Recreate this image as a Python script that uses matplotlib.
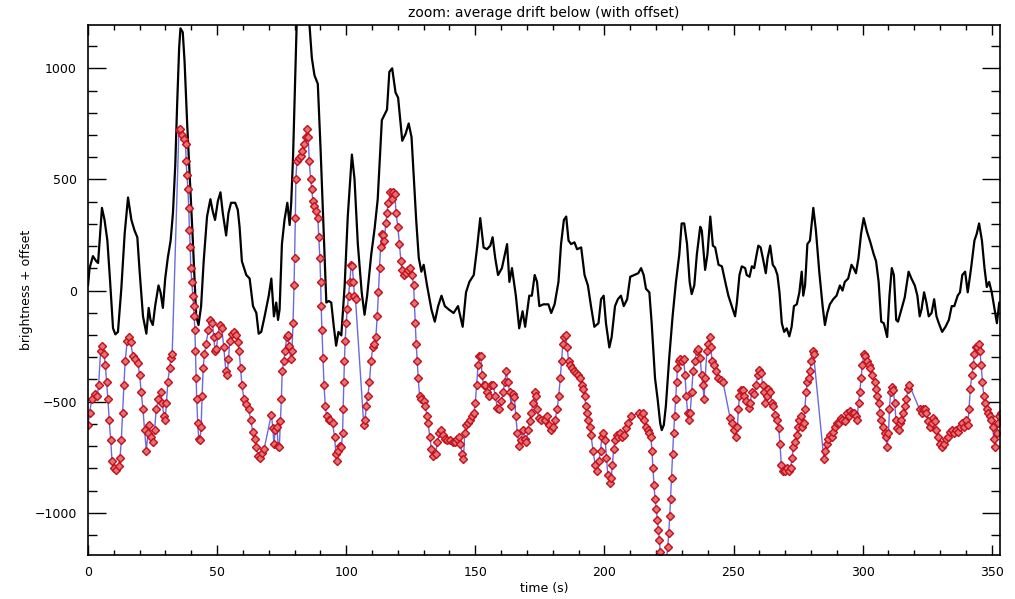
import numpy as np
import matplotlib.pyplot as plt
from matplotlib.ticker import MultipleLocator

# upper trace: raw brightness (black)
t_raw = [0, 0.6, 1.9, 3.2, 3.9, 5.4, 6.4, 7.5, 8.4, 9.7, 10.6, 11.6, 12.9, 14.2, 15.5, 16.8, 18, 19.1,
         20, 21.3, 22.6, 23.5, 24.2, 25.1, 26, 27.3, 28.1, 29, 29.9, 30.9, 32, 32.9, 33.8, 34.5, 35.3,
         35.8, 36.7, 37.4, 38.4, 39.7, 40.6, 41.9, 42.8, 43.8, 44.8, 46.1, 47.4, 48.3, 49.2, 50.3, 51.3,
         52.2, 53.5, 54.4, 55.4, 57, 58, 58.7, 59.6, 61.3, 62.6, 63.9, 65.2, 66.1, 67.1, 68.4, 70, 71,
         72, 72.9, 73.6, 74.2, 75.1, 76.1, 77.2, 78.1, 78.7, 79.4, 80.3, 80.8, 81.5, 83, 84.5, 85.8,
         86.7, 87.7, 89, 90.1, 91.4, 92.3, 93.2, 94.2, 95.2, 96.1, 97, 98.1, 99.4, 100.6, 102.2, 103.2,
         104.5, 106, 107.1, 108.1, 109.7, 111, 112.2, 113.8, 114.8, 115.8, 116.7, 117.8, 119.1, 120.1,
         121.7, 123, 124.2, 125.3, 126.2, 127.1, 128.1, 129.1, 130, 131.3, 133, 134.3, 135.6, 136.9,
         138.2, 139.7, 141.6, 143.3, 145.1, 146.4, 147.7, 149.4, 150.7, 151.9, 153.2, 154.5, 155.8,
         156.7, 157.7, 158.8, 160.3, 162.3, 163.2, 164.2, 165.7, 167, 168.3, 169.3, 170.9, 171.9, 173,
         173.9, 174.8, 176.4, 178.3, 179.4, 180.7, 182.2, 183.2, 184.3, 185.2, 186.1, 187.1, 188.4,
         189.4, 191, 192.3, 193.6, 194.8, 196.1, 197.7, 198.7, 199.7, 200.6, 201.9, 202.8, 204.1,
         205.2, 206.4, 207.5, 208.8, 210, 211.6, 213.1, 214.2, 215.2, 216.1, 217.4, 218.3, 219.6,
         220.6, 221.6, 222.2, 223, 223.8, 225.1, 226.4, 227.7, 229, 229.9, 230.9, 232, 233, 233.8,
         234.8, 235.8, 237.1, 237.7, 239, 239.9, 241, 242, 242.9, 244.2, 245.5, 246.8, 248, 249.3,
         250.6, 251.3, 252.3, 253.2, 254.5, 255.1, 256.2, 257.1, 258, 258.7, 259.6, 260.5, 261.6,
         262.5, 263.2, 264.2, 265.2, 266.1, 267, 267.8, 268.7, 269.6, 270.6, 271.6, 272.5, 273.4,
         274.5, 275.5, 276.4, 277, 277.7, 278.6, 279.6, 280.9, 281.9, 283.2, 284.5, 285.4, 286.3,
         287.3, 288.6, 289.9, 291.2, 292.2, 293.1, 294.4, 295.7, 296.5, 297.4, 298.4, 299.4, 300.4,
         301.7, 303, 304.3, 305.2, 306.2, 307.2, 308.2, 309.5, 310.4, 311.3, 312.1, 313, 313.7, 315,
         316.3, 317.8, 318.9, 320.2, 321.2, 322.1, 322.8, 323.8, 324.7, 325.6, 326.7, 327.7, 328.6,
         329.5, 330.8, 332.1, 333.4, 334.5, 335.5, 336.8, 337.7, 338.6, 339.7, 340.7, 342, 343.3,
         344.2, 345.1, 346.2, 347.2, 348.1, 349, 350, 351.1, 352, 352.9, 353.9]
v_raw = [23, 100, 155, 132, 124, 372, 318, 225, 70, -170, -197, -186, 8, 256, 419, 318, 271, 240,
         85, -116, -194, -78, -132, -155, -70, 23, -8, -78, 54, 147, 225, 349, 566, 829, 1093,
         1180, 1162, 1031, 752, 442, 225, -116, -155, -70, 132, 333, 411, 357, 318, 403, 442,
         349, 248, 349, 395, 395, 364, 287, 132, 70, 54, -70, -101, -194, -186, -116, -23, 54,
         -116, -54, -132, -85, 209, 318, 395, 295, 395, 597, 984, 1194, 1350, 1450, 1400, 1194,
         1046, 969, 930, 628, 225, -54, -47, -54, -163, -248, -186, -202, 23, 333, 612, 504,
         209, -8, -109, -23, 163, 279, 411, 767, 790, 814, 984, 1000, 891, 868,
         674, 705, 752, 690, 504, 318, 147, 85, 116, 23, -85, -140, -70, -23,
         -70, -85, -101, -70, -163, -8, 39, 70, 194, 326, 194, 186, 202,
         240, 147, 70, 101, 209, 39, 101, -23, -170, -93, -163, -23, -23, 70,
         39, -70, -62, -62, -101, -62, 39, 209, 318, 333, 225, 209, 217,
         186, 194, 70, 23, -70, -163, -147, -39, -23, -147, -256, -209, -70,
         -39, -23, -70, -39, 62, 70, 78, 101, 70, 8, -8, -147, -395,
         -488, -597, -628, -605, -519, -302, -116, 39, 163, 302, 302, 209, 39, -16,
         23, 163, 287, 271, 93, 163, 333, 202, 194, 116, 109, 39, -23, -70,
         -116, -54, 70, 109, 101, 70, 62, 109, 101, 147, 202, 194, 132,
         78, 147, 202, 116, 101, 70, -8, -147, -186, -170, -206, -163, -70,
         -62, -8, 85, -23, 23, 209, 225, 372, 271, 85, -70, -155, -101,
         -62, -39, -23, 23, 0, 39, 54, 116, 101, 78, 147, 256, 326,
         264, 217, 163, 132, 39, -140, -147, -209, -23, 101, 70, -132, -140, -85,
         -31, 85, 54, 23, -23, -116, -85, -8, -54, -116, -101, -39, -116,
         -147, -186, -163, -132, -70, -70, -23, -8, 70, 85, -8, 101, 225,
         256, 302, 225, 101, 16, 39, -8, -85, -147, -54, -47]

# lower trace: drift-corrected brightness with offset (diamonds)
t_cor = [0, 0.6, 1.5, 2.6, 3.6, 4.1, 4.9, 5.4, 6.2, 6.7, 7.2, 7.7, 8.2, 8.8, 9.3, 10.1, 11, 11.9,
         12.4, 12.9, 13.4, 13.9, 14.4, 15.2, 15.9, 16.5, 17.4, 18.3, 19.3, 20, 20.6, 21.3, 21.9, 22.6,
         23.2, 23.8, 24.5, 25.1, 25.8, 26.4, 27.3, 28.1, 28.7, 29.4, 29.9, 30.4, 30.9, 31.6, 32.2,
         32.6, 35.2, 35.8, 36.3, 37.1, 37.8, 38, 38.3, 38.7, 39, 39.3, 39.6, 39.8, 40.2, 40.6, 40.9,
         41.1, 41.4, 41.6, 41.9, 42.1, 42.5, 42.9, 43.4, 43.8, 44.2, 44.6, 45.1, 45.7, 46.6, 47.4,
         48.2, 48.7, 49.2, 49.7, 50.3, 51, 51.8, 52.6, 53.4, 53.9, 54.4, 54.9, 55.7, 56.7, 57.5, 58,
         58.5, 59.1, 59.6, 60.4, 61.3, 62.2, 63, 63.8, 64.5, 65.2, 65.8, 66.6, 67.4, 68.2,
         71, 71.6, 72, 72.5, 73.2, 73.6, 74.1, 74.5, 74.9, 75.2, 75.8, 76.4, 76.9, 77.4, 77.9, 78.5,
         79, 79.4, 79.8, 80, 80.3, 80.5, 80.9, 81.6, 82.3, 83, 83.6, 84.3, 84.9, 85.3, 85.7, 86.2,
         86.6, 87.1, 87.6, 88.3, 89, 89.4, 89.8, 90.1, 90.3, 90.6, 91, 91.4, 91.9, 92.4, 93.2, 93.9,
         94.7, 95.5, 96, 96.5, 97, 97.5, 98.1, 98.6, 98.8, 99.1, 99.3, 99.6, 100, 100.4, 100.9, 101.4,
         101.9, 102.4, 102.8, 103.2, 103.6, 106.8, 107.3, 107.8, 108.4, 109, 109.6, 110.3, 110.9,
         111.5, 112, 112.5, 112.9, 113.3, 113.8, 114.3, 114.8, 115.3, 115.8, 116.3, 117.1, 117.6,
         118.2, 118.8, 119.3, 120, 120.6, 121.2, 121.7, 122.4, 123.2, 124, 124.8, 125.5, 126.1,
         126.4, 126.8, 127.1, 127.5, 127.9, 128.4, 129.1, 130, 130.7, 131.2, 131.7, 132.4, 133,
         133.8, 134.6, 135.3, 136.1, 136.9, 137.6, 138.4, 139.2, 140.2, 141.3, 142, 142.8, 143.6,
         144.2, 144.9, 145.4, 145.9, 146.4, 147.2, 148, 148.7, 149.5, 150, 150.5, 151.1, 151.6,
         152.1, 152.6, 153.2, 153.9, 154.7, 155.4, 156.2, 157, 157.7, 158.5, 159.3, 160.1, 160.8,
         161.4, 162, 162.6, 163.3, 163.9, 164.5, 165.1, 165.7, 166.3, 167, 167.8, 168.4, 169.1,
         169.7, 170.4, 171, 171.7, 172.4, 173, 173.5, 174, 174.5, 175.5, 176.8, 177.8, 178.6, 179.4,
         180.2, 180.9, 181.7, 182.3, 182.9, 183.4, 183.9, 184.5, 185, 185.6, 186.1, 186.6, 187.4,
         188.1, 188.9, 189.7, 190.5, 191.2, 191.7, 192.3, 192.8, 193.3, 193.8, 194.3, 194.8, 195.6,
         196.4, 197.2, 197.9, 198.5, 199, 199.6, 200.3, 200.8, 201.3, 202.1, 202.6, 203.1, 203.6,
         204.1, 204.8, 205.4, 206.2, 207, 207.7, 208.5, 209.3, 210.1, 213.5, 214.2, 214.8, 215.5,
         216.1, 216.7, 217.4, 218, 218.4, 218.8, 219.2, 219.6, 220.1, 220.5, 220.9, 221.3, 221.6,
         222, 222.7, 223.4, 224, 224.5, 224.9, 225.3, 225.6, 226, 226.4, 226.8, 227.2, 227.6, 228,
         228.3, 228.7, 229.3, 229.9, 230.7, 231.2, 231.7, 232.2, 232.7, 233.2, 233.8, 234.3, 235,
         235.8, 236.4, 237.1, 237.6, 238.1, 238.6, 239, 239.7, 240.2, 240.7, 241.2, 241.7, 242.5,
         243.3, 244.1, 245.1, 245.9, 248.7, 249.5, 250.2, 251, 251.5, 251.9, 252.3, 252.8, 253.5,
         254.1, 254.9, 255.8, 256.4, 257.2, 258, 258.7, 259.4, 260, 260.7, 261.3, 261.8, 262.3,
         262.9, 263.5, 264.2, 264.8, 265.4, 266.2, 267, 267.5, 268, 268.5, 269.1, 269.8, 270.6,
         271.4, 272.1, 272.7, 273.2, 273.8, 274.5, 275, 275.5, 276, 276.5, 277.1, 277.6, 278.1,
         278.6, 279.1, 279.6, 280.1, 280.6, 281, 285, 285.5, 286.1, 286.7, 287.3, 288, 288.6, 289.3,
         289.9, 290.7, 291.5, 292.2, 293, 293.8, 294.6, 295.3, 296, 296.8, 297.3, 297.8, 298.4,
         298.9, 299.4, 299.9, 300.4, 301, 301.5, 302.3, 303, 303.8, 304.6, 305.1, 305.6, 306.2,
         306.7, 307.2, 307.8, 308.5, 309, 309.5, 310, 310.4, 310.8, 311.3, 311.9, 312.4, 312.9,
         313.4, 313.9, 314.5, 315, 315.6, 316.3, 316.9, 317.6, 318.1, 322.1, 322.8, 323.4, 324.1,
         324.7, 325.4, 326, 326.7, 327.3, 328, 328.6, 329.3, 330, 330.8, 331.6, 332.4, 333.2, 333.9,
         334.5, 335.2, 336, 336.8, 337.6, 338.4, 339.1, 339.9, 340.7, 341.2, 341.7, 342.3, 342.8,
         343.3, 343.8, 344.3, 344.9, 345.4, 345.9, 346.4, 346.9, 347.4, 348.1, 348.7, 349.3, 349.8,
         350.3, 350.8, 351.3, 351.9, 352.4, 352.9, 353.4]
v_cor = [-605, -550, -488, -465, -473, -426, -271, -248, -287, -333, -411, -488, -581, -674, -767,
         -798, -806, -790, -752, -674, -550, -426, -318, -225, -209, -233, -295, -310, -326, -380,
         -457, -535, -628, -721, -643, -605, -659, -682, -628, -535, -488, -457, -504, -566, -581,
         -504, -411, -349, -302, -287, 721, 729, 698, 682, 659, 581, 519, 457, 372, 271, 194, 101,
         39, -23, -70, -116, -178, -271, -395, -488, -597, -667, -674, -612, -473, -349, -287, -240,
         -178, -132, -147, -209, -271, -264, -202, -155, -170, -256, -364, -380, -310, -225, -194,
         -186, -202, -233, -271, -349, -426, -488, -512, -535, -581, -636, -667, -705, -744, -752,
         -729, -713, -558, -620, -690, -628, -612, -698, -705, -589, -488, -364, -318, -271, -209,
         -202, -248, -310, -271, -147, 23, 147, 326, 504, 581, 597, 605, 628, 659, 690, 729, 690,
         581, 504, 457, 403, 380, 357, 326, 240, 147, 39, -70, -178, -302, -426, -519, -566, -581,
         -581, -597, -659, -736, -767, -721, -698, -705, -643, -535, -411, -318, -225, -147, -85,
         -23, 39, 116, 109, 39, -23, -39, -605, -581, -519, -473, -411, -318, -256, -240, -209,
         -116, -8, 101, 194, 256, 248, 225, 302, 349, 395, 442, 411, 442, 434, 349, 287, 209, 132,
         93, 70, 78, 93, 101, 70, 23, -54, -147, -240, -318, -395, -473, -488, -496, -519, -566,
         -597, -659, -713, -744, -736, -682, -643, -628, -651, -667, -674, -674, -682, -682, -667,
         -659, -690, -736, -760, -643, -605, -597, -581, -566, -550, -504, -426, -333, -295, -295,
         -380, -426, -426, -457, -473, -426, -426, -473, -527, -535, -496, -457, -411, -364, -411,
         -457, -519, -465, -480, -566, -643, -698, -674, -628, -667, -682, -628, -589, -550, -504,
         -457, -473, -535, -574, -581, -581, -566, -605, -628, -612, -581, -535, -473, -395, -318,
         -240, -209, -202, -256, -318, -333, -349, -364, -372, -380, -395, -426, -442, -473, -519,
         -550, -581, -612, -651, -721, -783, -814, -767, -721, -659, -643, -674, -752, -829, -868,
         -845, -783, -713, -674, -651, -659, -643, -659, -651, -620, -597, -566, -550, -566, -550,
         -581, -612, -628, -643, -659, -721, -798, -876, -938, -984, -1031, -1077, -1124, -1178,
         -1232, -1294, -1294, -1217, -1155, -1093, -1015, -938, -845, -736, -643, -566, -488, -411,
         -349, -318, -310, -318, -310, -380, -473, -550, -581, -550, -457, -364, -318, -271, -264,
         -302, -380, -426, -488, -395, -271, -240, -209, -256, -318, -333, -364, -395, -403, -411,
         -574, -597, -628, -659, -612, -535, -473, -449, -449, -473, -496, -527, -504, -457, -465,
         -426, -380, -357, -372, -426, -457, -504, -473, -442, -457, -504, -519, -558, -581, -620,
         -690, -783, -814, -814, -798, -814, -798, -752, -705, -682, -651, -612, -581, -566, -612,
         -597, -535, -457, -411, -395, -364, -318, -271, -287, -760, -721, -690, -667, -651, -659,
         -636, -612, -597, -597, -574, -581, -589, -550, -566, -543, -550, -550, -566, -581, -504,
         -457, -395, -333, -287, -295, -318, -333, -349, -380, -411, -442, -473, -504, -550, -581,
         -612, -643, -659, -705, -643, -535, -457, -434, -449, -504, -581, -620, -628, -597, -581,
         -550, -519, -488, -442, -426, -535, -550, -535, -535, -550, -589, -612, -597, -574, -589,
         -628, -659, -690, -705, -690, -667, -659, -636, -628, -643, -628, -636, -612, -597, -612,
         -581, -605, -535, -442, -380, -333, -287, -256, -256, -240, -271, -333, -411, -473, -504,
         -535, -550, -566, -581, -612, -667, -705, -643, -597, -566, -550]

plt.close('all')

fig = plt.figure(figsize=(10.15, 5.99), dpi=100)
ax = fig.add_axes([88/1015, 1-555/599, 912/1015, 530/599])

ax.plot(t_raw, v_raw, color='black', linewidth=1.6)
ax.plot(t_cor, v_cor, color='#6a6ae0', linewidth=1.0, marker='D', markersize=3.8,
        markerfacecolor='#e87070', markeredgecolor='#c0101e', markeredgewidth=1.0)

ax.set_xlim(0, 353.2)
ax.set_ylim(-1190, 1195)

ax.xaxis.set_major_locator(MultipleLocator(50))
ax.xaxis.set_minor_locator(MultipleLocator(10))
ax.yaxis.set_major_locator(MultipleLocator(500))
ax.yaxis.set_minor_locator(MultipleLocator(100))
ax.tick_params(axis='x', which='major', direction='in', length=7.5, width=1, top=True, bottom=True)
ax.tick_params(axis='x', which='minor', direction='in', length=3.8, width=1, top=True, bottom=True)
ax.tick_params(axis='y', which='major', direction='in', length=13, width=1, left=True, right=True)
ax.tick_params(axis='y', which='minor', direction='in', length=6.5, width=1, left=True, right=True)
ax.tick_params(labelsize=9, pad=8)
for s in ax.spines.values():
    s.set_linewidth(1.2)

ax.set_title('zoom: average drift below (with offset)', fontsize=10, pad=6)
ax.set_xlabel('time (s)', fontsize=9, labelpad=2)
ax.set_ylabel('brightness + offset', fontsize=9)
ax.yaxis.set_label_coords(-0.06, 0.5)

fig.savefig('out.png', dpi=100)
